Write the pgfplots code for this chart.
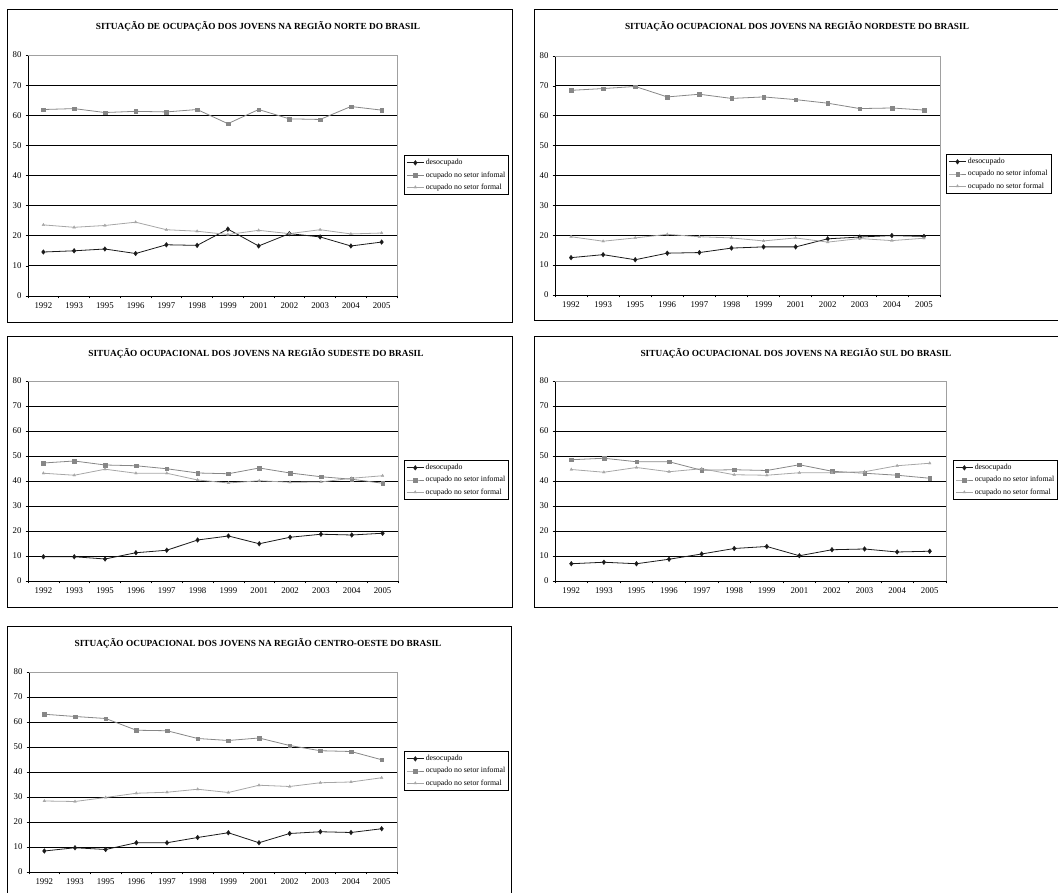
\documentclass[border=0pt]{standalone}
\usepackage{pgfplots}
\usepackage{pgfplotstable}
\pgfplotsset{compat=1.18}
\usepackage{fontspec}
\setmainfont{Liberation Serif}

\definecolor{desoc}{HTML}{1A1A1A}
\definecolor{infc}{HTML}{878787}
\definecolor{formc}{HTML}{A6A6A6}
\definecolor{frameg}{HTML}{A0A0A0}

\pgfplotstableread{
i des inf form
0 14.6 61.9 23.6
1 15.0 62.2 22.8
2 15.6 60.9 23.4
3 14.1 61.3 24.5
4 17.0 61.1 22.0
5 16.8 61.9 21.5
6 22.2 57.2 20.4
7 16.6 61.9 21.8
8 20.7 58.8 20.7
9 19.6 58.6 22.0
10 16.6 62.9 20.6
11 17.9 61.7 20.9
}\norte
\pgfplotstableread{
i des inf form
0 12.5 68.5 19.5
1 13.5 69.1 18.0
2 11.8 69.8 19.1
3 14.0 66.3 20.3
4 14.2 67.2 19.5
5 15.7 65.8 19.1
6 16.1 66.3 18.1
7 16.1 65.4 19.1
8 18.8 64.2 17.7
9 19.4 62.4 18.9
10 19.9 62.6 18.2
11 19.6 61.9 19.0
}\nordeste
\pgfplotstableread{
i des inf form
0 9.7 47.2 43.1
1 9.7 48.0 42.3
2 8.8 46.4 44.7
3 11.3 46.1 43.1
4 12.3 44.9 43.1
5 16.4 43.2 40.4
6 18.0 42.9 39.2
7 14.9 45.2 40.1
8 17.5 43.2 39.5
9 18.7 41.7 39.6
10 18.4 40.7 41.1
11 19.1 39.1 42.1
}\sudeste
\pgfplotstableread{
i des inf form
0 6.9 48.5 44.6
1 7.5 49.1 43.5
2 6.9 47.7 45.4
3 8.7 47.7 43.7
4 10.8 44.3 44.9
5 13.0 44.5 42.5
6 13.8 44.2 42.3
7 10.1 46.5 43.3
8 12.5 43.9 43.3
9 12.8 43.1 43.7
10 11.6 42.3 46.1
11 11.9 41.1 47.1
}\sul
\pgfplotstableread{
i des inf form
0 8.4 63.1 28.4
1 9.7 62.2 28.2
2 9.0 61.4 29.8
3 11.7 56.7 31.5
4 11.7 56.5 31.9
5 13.8 53.4 33.1
6 15.7 52.6 31.8
7 11.7 53.6 34.7
8 15.4 50.6 34.2
9 16.1 48.5 35.7
10 15.8 48.2 36.0
11 17.3 44.9 37.7
}\centro

\pgfplotsset{
  panel/.style={
    scale only axis, anchor=south west,
    xmin=-0.5, xmax=11.5, ymin=0, ymax=80,
    axis lines=left, axis line style={-, black, line width=0.8pt},
    xtick={0,...,11},
    xticklabels={1992,1993,1995,1996,1997,1998,1999,2001,2002,2003,2004,2005},
    minor xtick={-0.5,0.5,...,11.5},
    major x tick style={draw=none},
    minor x tick style={black, line width=0.6pt},
    ytick={0,10,...,70},
    extra y ticks={80}, extra y tick style={grid=none},
    ytick style={black, line width=0.6pt},
    tick align=outside, major tick length=2.5pt, minor tick length=2.5pt,
    ymajorgrids, major grid style={black, line width=0.9pt},
    /pgf/number format/assume math mode=true,
    tick label style={font=\fontsize{8.8}{10}\selectfont},
    xticklabel style={yshift=-1pt},
    yticklabel style={xshift=-0.5pt},
    clip=false,
    legend cell align=left,
    legend style={draw=black, line width=0.8pt, anchor=north west,
      font=\fontsize{7.8}{9}\selectfont, row sep=2.2pt, inner xsep=2pt, inner ysep=2.5pt,
      nodes={inner sep=1.5pt}},
    every axis plot/.append style={line width=0.8pt},
  },
  des/.style={color=desoc, mark=diamond*, mark size=2.4pt, mark options={fill=desoc, line width=0.3pt}},
  inf/.style={color=infc, mark=square*, mark size=1.8pt, mark options={fill=infc, line width=0.3pt}},
  frm/.style={color=formc, mark=triangle*, mark size=1.6pt, mark options={fill=formc, line width=0.3pt}},
}

\newcommand{\topright}{\draw[frameg, line width=0.9pt] (rel axis cs:0,1) -- (rel axis cs:1,1) -- (rel axis cs:1,0);}
\newcommand{\ttl}{\bfseries\fontsize{9.3}{11}\selectfont}

\begin{document}
\begin{tikzpicture}
\path[use as bounding box] (0pt,0pt) rectangle (1058pt,893pt);
\clip (0pt,0pt) rectangle (1058pt,893pt);

% panel frames
\draw[black, line width=1pt] (7pt,570pt) rectangle (512pt,883pt);
\draw[black, line width=1pt] (534pt,572pt) rectangle (1075pt,883pt);
\draw[black, line width=1pt] (7pt,285pt) rectangle (512pt,556pt);
\draw[black, line width=1pt] (534pt,285pt) rectangle (1075pt,556pt);
\draw[black, line width=1pt] (7pt,-20pt) rectangle (511pt,266pt);

% titles
\node[font=\ttl] at (258pt,867pt) {SITUAÇÃO DE OCUPAÇÃO DOS JOVENS NA REGIÃO NORTE DO BRASIL};
\node[font=\ttl] at (797pt,867pt) {SITUAÇÃO OCUPACIONAL DOS JOVENS NA REGIÃO NORDESTE DO BRASIL};
\node[font=\ttl] at (256pt,540pt) {SITUAÇÃO OCUPACIONAL DOS JOVENS NA REGIÃO SUDESTE DO BRASIL};
\node[font=\ttl] at (796pt,540pt) {SITUAÇÃO OCUPACIONAL DOS JOVENS NA REGIÃO SUL DO BRASIL};
\node[font=\ttl] at (258pt,250pt) {SITUAÇÃO OCUPACIONAL DOS JOVENS NA REGIÃO CENTRO-OESTE DO BRASIL};

% Norte
\begin{axis}[panel, at={(28pt,597pt)}, width=369pt, height=241pt,
  legend style={at={(1.019,0.585)}}]
\topright
\addplot[des] table[x=i,y=des]{\norte};
\addplot[inf] table[x=i,y=inf]{\norte};
\addplot[frm] table[x=i,y=form]{\norte};
\legend{desocupado, ocupado no setor infomal, ocupado no setor formal}
\end{axis}

% Nordeste
\begin{axis}[panel, at={(555pt,598pt)}, width=385pt, height=239pt,
  legend style={at={(1.016,0.590)}}]
\topright
\addplot[des] table[x=i,y=des]{\nordeste};
\addplot[inf] table[x=i,y=inf]{\nordeste};
\addplot[frm] table[x=i,y=form]{\nordeste};
\legend{desocupado, ocupado no setor infomal, ocupado no setor formal}
\end{axis}

% Sudeste
\begin{axis}[panel, at={(28pt,312pt)}, width=370pt, height=200pt,
  legend style={at={(1.016,0.605)}}]
\topright
\addplot[des] table[x=i,y=des]{\sudeste};
\addplot[inf] table[x=i,y=inf]{\sudeste};
\addplot[frm] table[x=i,y=form]{\sudeste};
\legend{desocupado, ocupado no setor infomal, ocupado no setor formal}
\end{axis}

% Sul
\begin{axis}[panel, at={(555pt,312pt)}, width=391pt, height=200pt,
  legend style={at={(1.018,0.605)}}]
\topright
\addplot[des] table[x=i,y=des]{\sul};
\addplot[inf] table[x=i,y=inf]{\sul};
\addplot[frm] table[x=i,y=form]{\sul};
\legend{desocupado, ocupado no setor infomal, ocupado no setor formal}
\end{axis}

% Centro-Oeste
\begin{axis}[panel, at={(29pt,21pt)}, width=368pt, height=200pt,
  legend style={at={(1.019,0.605)}}]
\topright
\addplot[des] table[x=i,y=des]{\centro};
\addplot[inf] table[x=i,y=inf]{\centro};
\addplot[frm] table[x=i,y=form]{\centro};
\legend{desocupado, ocupado no setor infomal, ocupado no setor formal}
\end{axis}
\end{tikzpicture}
\end{document}
